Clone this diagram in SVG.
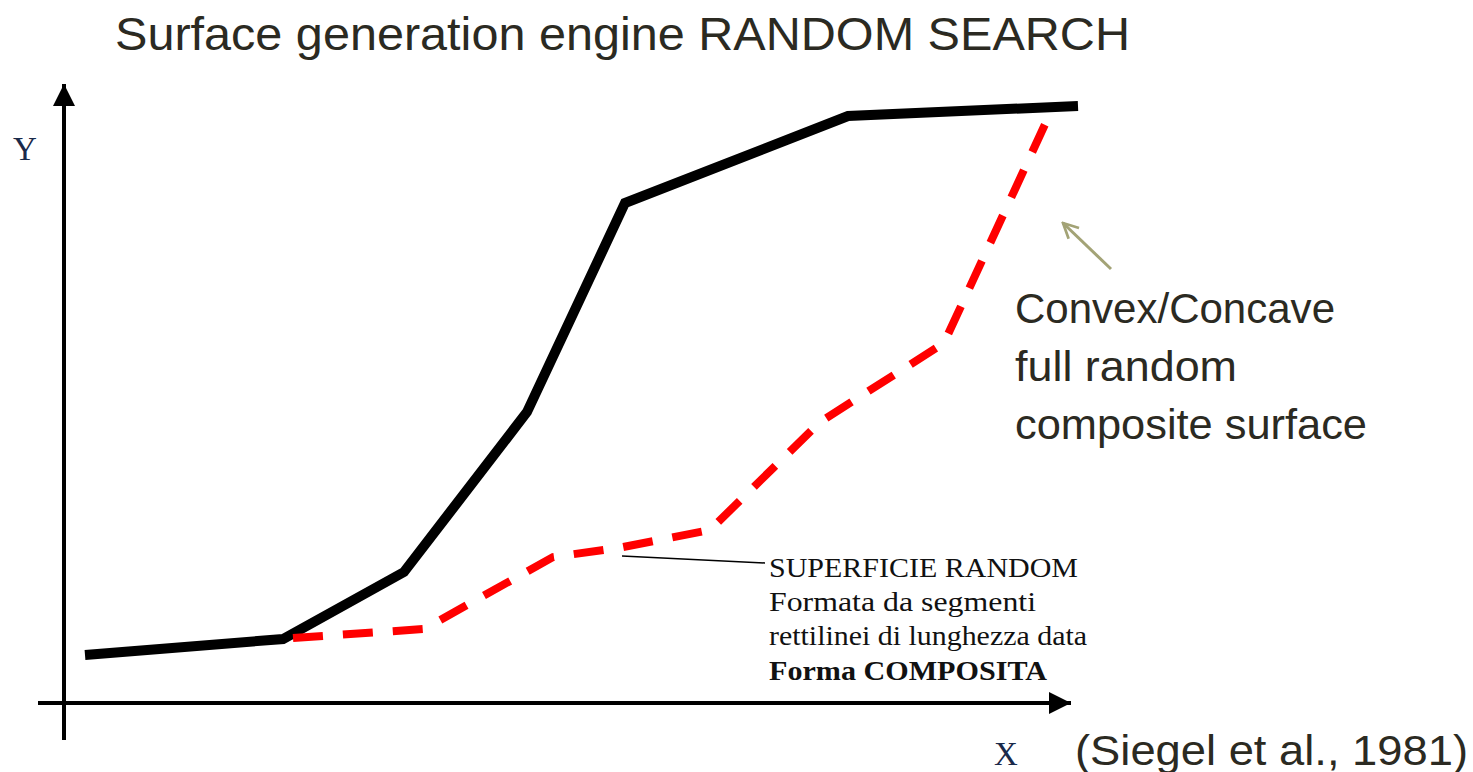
<svg xmlns="http://www.w3.org/2000/svg" width="1473" height="772" viewBox="0 0 1473 772">
<style>
.title{font-family:"Liberation Sans",Arial,sans-serif;font-size:46px;fill:#2b2a22}
.lbl{font-family:"Liberation Sans",Arial,sans-serif;font-size:42px;fill:#2b2a22}
.ser{font-family:"Liberation Serif","Times New Roman",serif;fill:#111;font-size:27px}
.axl{font-family:"Liberation Serif","Times New Roman",serif;fill:#1a2a4a;font-size:33px}
.axis{stroke:#000;stroke-width:4;fill:none}
</style>
<defs>
<marker id="ah" viewBox="0 0 10 10" refX="10" refY="5" markerWidth="5.5" markerHeight="5.5" orient="auto" markerUnits="strokeWidth">
<path d="M0,0 L10,5 L0,10 Z" fill="#000"/>
</marker>
<marker id="oh" viewBox="0 0 12 12" refX="11" refY="6" markerWidth="6" markerHeight="6" orient="auto" markerUnits="strokeWidth">
<path d="M1,1 L11,6 L1,11" fill="none" stroke="#a3a376" stroke-width="1.8"/>
</marker>
</defs>
<rect width="1473" height="772" fill="#fff"/>
<text id="title" class="title" x="115" y="50" textLength="1015" lengthAdjust="spacingAndGlyphs">Surface generation engine RANDOM SEARCH</text>
<g id="axes">
<line class="axis" x1="64" y1="740" x2="64" y2="84" marker-end="url(#ah)"/>
<line class="axis" x1="38" y1="703" x2="1071" y2="703" marker-end="url(#ah)"/>
<text class="axl" x="13" y="160">Y</text>
<text class="axl" x="994" y="765">X</text>
</g>
<g id="curve-black">
<polyline points="85,655 283,639 404,572 527,412 625,203 848,116 1078,106" fill="none" stroke="#000" stroke-width="10" stroke-linejoin="miter"/>
</g>
<g id="curve-red">
<polyline points="293,638 424,629 553,557 618,548 710,530 820,422 944,343 1047,120" fill="none" stroke="#ff0000" stroke-width="8" stroke-dasharray="30,20"/>
</g>
<g id="connectors">
<line x1="622" y1="556" x2="765" y2="563" stroke="#000" stroke-width="1.5"/>
<line x1="1111" y1="269" x2="1063" y2="223" stroke="#a3a376" stroke-width="3" marker-end="url(#oh)"/>
</g>
<g id="label-random">
<text class="ser" x="769" y="577" textLength="309" lengthAdjust="spacingAndGlyphs">SUPERFICIE RANDOM</text>
<text class="ser" x="769" y="611" textLength="267" lengthAdjust="spacingAndGlyphs">Formata da segmenti</text>
<text class="ser" x="769" y="645" textLength="318" lengthAdjust="spacingAndGlyphs">rettilinei di lunghezza data</text>
<text class="ser" x="769" y="680" font-weight="bold" textLength="278" lengthAdjust="spacingAndGlyphs">Forma COMPOSITA</text>
</g>
<g id="label-convex">
<text class="lbl" x="1015" y="323" textLength="320" lengthAdjust="spacingAndGlyphs">Convex/Concave</text>
<text class="lbl" x="1015" y="381" textLength="222" lengthAdjust="spacingAndGlyphs">full random</text>
<text class="lbl" x="1015" y="439" textLength="352" lengthAdjust="spacingAndGlyphs">composite surface</text>
</g>
<text id="cite" class="lbl" x="1075" y="765" textLength="393" lengthAdjust="spacingAndGlyphs">(Siegel et al., 1981)</text>
</svg>
